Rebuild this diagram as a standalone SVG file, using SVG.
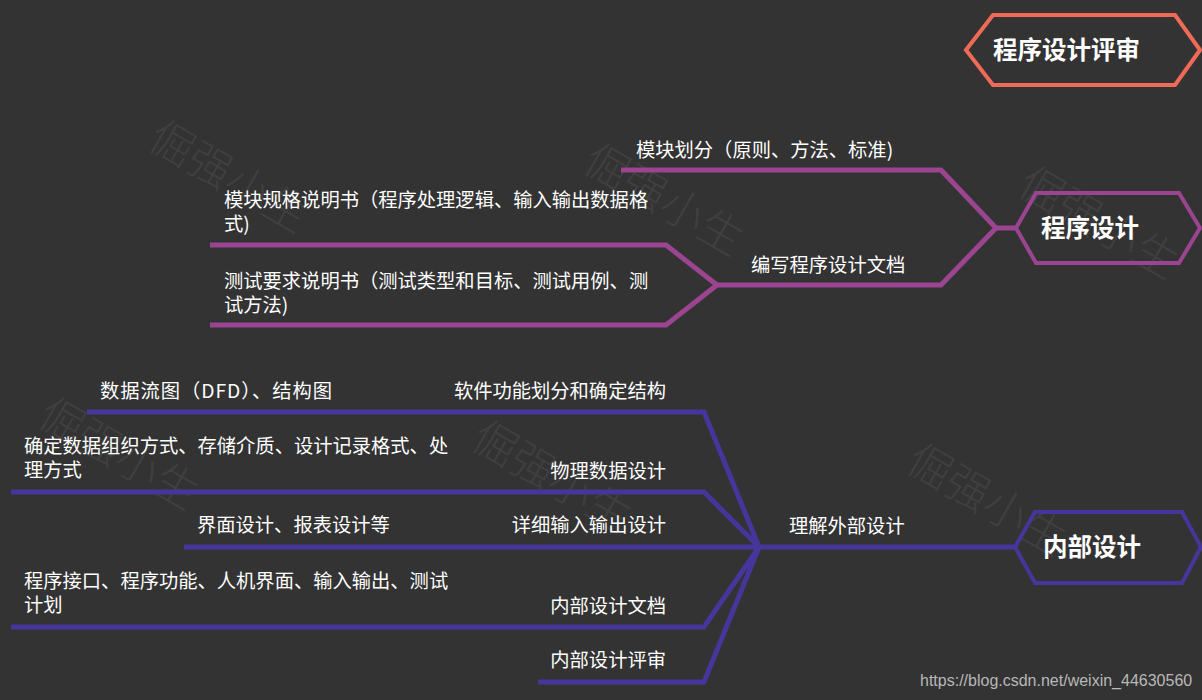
<svg xmlns="http://www.w3.org/2000/svg" width="1202" height="700" viewBox="0 0 1202 700">
<style>
.bg{fill:#333333}
.wm{font-family:"Noto Sans CJK SC","Noto Sans",sans-serif;font-size:44px;font-weight:300;fill:#ffffff;fill-opacity:0.08}
.t{font-family:"Noto Sans CJK SC","Noto Sans",sans-serif;font-size:19.3px;fill:#ffffff}
.r{text-anchor:end}
.h{font-family:"Noto Sans CJK SC","Noto Sans",sans-serif;font-size:24.5px;font-weight:bold;fill:#ffffff}
.hex{fill:none;stroke-width:4;stroke-linejoin:miter}
.pl{fill:none;stroke:#9b4590;stroke-width:5;stroke-linejoin:miter}
.bl{fill:none;stroke:#46369c;stroke-width:5;stroke-linejoin:miter}
.url{font-family:"Liberation Sans",Arial,sans-serif;font-size:16px;fill:#b8b8b8}
</style>
<rect class="bg" x="0" y="0" width="1202" height="700"/>
<g id="watermarks">
<text class="wm" x="145" y="146" transform="rotate(30 145 146)">倔强小生</text>
<text class="wm" x="580" y="169" transform="rotate(30 580 169)">倔强小生</text>
<text class="wm" x="1015" y="192" transform="rotate(30 1015 192)">倔强小生</text>
<text class="wm" x="35" y="423" transform="rotate(30 35 423)">倔强小生</text>
<text class="wm" x="468" y="446" transform="rotate(30 468 446)">倔强小生</text>
<text class="wm" x="903" y="469" transform="rotate(30 903 469)">倔强小生</text>
</g>
<g id="connectors">
<path class="pl" d="M621,170 L941,170 L996,228 L1016,228"/>
<path class="pl" d="M717,285 L941,285 L996,228"/>
<path class="pl" d="M210,245 L666,245 L717,285 L666,325 L210,325"/>
<path class="bl" d="M87,412 L704,412 L759,547"/>
<path class="bl" d="M11,492 L704,492 L759,547"/>
<path class="bl" d="M184,547 L1015,547"/>
<path class="bl" d="M11,627 L704,627 L759,547"/>
<path class="bl" d="M538,682 L704,682 L759,547"/>
</g>
<g id="node-review">
<polygon class="hex" stroke="#f06b57" points="966,50 993,15 1175,15 1200,50 1175,85 993,85"/>
<text class="h" x="993" y="59">程序设计评审</text>
</g>
<g id="node-program-design">
<polygon class="hex" stroke="#9b4590" points="1016,228 1036,193 1179,193 1200,228 1179,263 1036,263"/>
<text class="h" x="1041" y="237">程序设计</text>
</g>
<g id="node-module-divide">
<text class="t" x="636" y="157">模块划分（原则、方法、标准)</text>
</g>
<g id="node-write-doc">
<text class="t" x="751" y="272">编写程序设计文档</text>
</g>
<g id="node-module-spec">
<text class="t" x="224" y="207">模块规格说明书（程序处理逻辑、输入输出数据格</text>
<text class="t" x="224" y="231">式)</text>
</g>
<g id="node-test-spec">
<text class="t" x="224" y="288">测试要求说明书（测试类型和目标、测试用例、测</text>
<text class="t" x="224" y="312">试方法)</text>
</g>
<g id="node-internal-design">
<polygon class="hex" stroke="#46369c" points="1015,547 1035,512 1182,512 1201,547 1182,583 1035,583"/>
<text class="h" x="1043" y="556">内部设计</text>
</g>
<g id="node-understand">
<text class="t" x="789" y="533">理解外部设计</text>
</g>
<g id="node-function-divide">
<text class="t r" x="666" y="398">软件功能划分和确定结构</text>
</g>
<g id="node-dfd">
<text class="t" x="100" y="398" textLength="232" lengthAdjust="spacing">数据流图（DFD）、结构图</text>
</g>
<g id="node-physical-data">
<text class="t r" x="666" y="478">物理数据设计</text>
</g>
<g id="node-data-org">
<text class="t" x="24" y="453">确定数据组织方式、存储介质、设计记录格式、处</text>
<text class="t" x="24" y="477">理方式</text>
</g>
<g id="node-io-design">
<text class="t r" x="666" y="532">详细输入输出设计</text>
</g>
<g id="node-ui">
<text class="t" x="197" y="532">界面设计、报表设计等</text>
</g>
<g id="node-internal-doc">
<text class="t r" x="666" y="613">内部设计文档</text>
</g>
<g id="node-interface">
<text class="t" x="24" y="588">程序接口、程序功能、人机界面、输入输出、测试</text>
<text class="t" x="24" y="612">计划</text>
</g>
<g id="node-internal-review">
<text class="t r" x="666" y="667">内部设计评审</text>
</g>
<text class="url" x="920" y="686">https://blog.csdn.net/weixin_44630560</text>
</svg>
